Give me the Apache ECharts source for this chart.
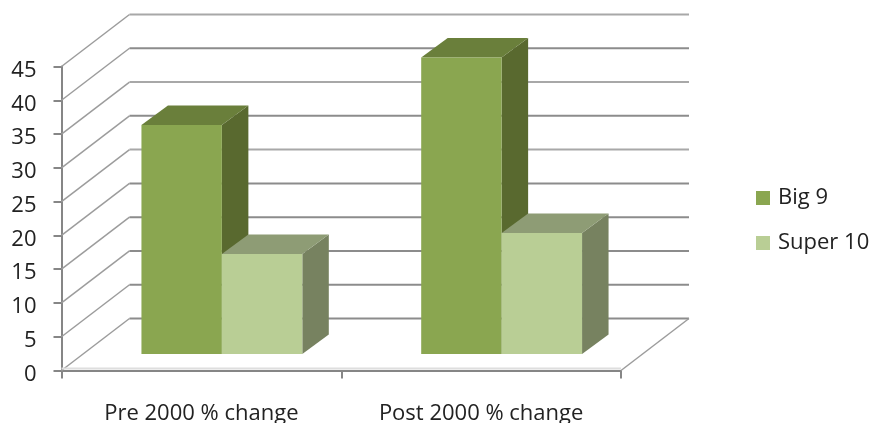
<!DOCTYPE html>
<html>
<head>
<meta charset="utf-8">
<style>html,body{margin:0;padding:0;background:#fff}#chart{width:871px;height:423px}</style>
<script src="https://cdn.jsdelivr.net/npm/echarts@6/dist/echarts.min.js"></script>
</head>
<body>
<div id="chart"></div>
<script>
// Percentage change by period for the two groups
const categories = ['Pre 2000 % change', 'Post 2000 % change'];
const big9 = [33.9, 43.9];
const super10 = [14.8, 17.9];
const yTicks = [0, 5, 10, 15, 20, 25, 30, 35, 40, 45];

// Oblique projection of the 3D box
const WALL_DX = 68, WALL_DY = 52;       // floor depth, front edge to back wall
const BAR_SHIFT_X = 20.5, BAR_SHIFT_Y = 16.5; // bars stand slightly behind the front edge
const BAR_DX = 26.5, BAR_DY = 19.5;     // depth of each bar
const BAR_BAND = 0.2875;                // bar width as a share of the category band
const AXIS_COLOR = '#868686';

const palette = {
  big9: { front: '#8aa650', top: '#6a7f3b', side: '#59692f' },
  super10: { front: '#b9ce95', top: '#8e9c75', side: '#778260' }
};

function poly(points, fill) {
  return { type: 'polygon', shape: { points }, style: { fill, stroke: null } };
}

// Draws a bar as three faces; offset is -1 for the left bar of a pair, 0 for the right
function barRenderer(colors, offset) {
  return function (params, api) {
    const top = api.coord([api.value(0), api.value(1)]);
    const bottom = api.coord([api.value(0), 0]);
    const w = api.size([1, 0])[0] * BAR_BAND;
    const x0 = top[0] + BAR_SHIFT_X + offset * w;
    const x1 = x0 + w;
    const yT = top[1] - BAR_SHIFT_Y;
    const yB = bottom[1] - BAR_SHIFT_Y;
    return {
      type: 'group',
      children: [
        poly([[x1, yT], [x1 + BAR_DX, yT - BAR_DY], [x1 + BAR_DX, yB - BAR_DY], [x1, yB]], colors.side),
        poly([[x0, yT], [x0 + BAR_DX, yT - BAR_DY], [x1 + BAR_DX, yT - BAR_DY], [x1, yT]], colors.top),
        poly([[x0, yT], [x1, yT], [x1, yB], [x0, yB]], colors.front)
      ]
    };
  };
}

// Side wall diagonal plus back wall rule for each tick value
function wallRenderer(params, api) {
  const cs = params.coordSys;
  const value = api.value(1);
  const y = api.coord([0, value])[1];
  const heavy = value % 10 === 0 || value === 15 || value === 5;
  const lines = [{
    type: 'polyline',
    shape: { points: [[cs.x, y], [cs.x + WALL_DX, y - WALL_DY]] },
    style: { fill: null, stroke: '#9c9c9c', lineWidth: 1.5 }
  }, {
    type: 'line',
    shape: { x1: cs.x + WALL_DX, y1: y - WALL_DY, x2: cs.x + cs.width + WALL_DX, y2: y - WALL_DY },
    style: { stroke: heavy ? '#8c8c8c' : '#a8a8a8', lineWidth: 2 }
  }];
  if (value === 0) {
    // Floor: right edge and the pale band along the front
    lines.push({
      type: 'line',
      shape: { x1: cs.x + cs.width, y1: y, x2: cs.x + cs.width + WALL_DX, y2: y - WALL_DY },
      style: { stroke: '#9c9c9c', lineWidth: 1.5 }
    });
    lines.push({
      type: 'line',
      shape: { x1: cs.x, y1: y - 2, x2: cs.x + cs.width, y2: y - 2 },
      style: { stroke: '#dedede', lineWidth: 2 }
    });
  }
  return { type: 'group', children: lines };
}

const textStyle = { fontFamily: 'Open Sans', fontSize: 22, color: '#222' };

const chart = echarts.init(document.getElementById('chart'), null, { renderer: 'canvas' });
chart.setOption({
  animation: false,
  backgroundColor: '#fff',
  grid: { left: 61.5, right: 250, top: 66.5, bottom: 52.5, outerBoundsMode: 'none' },
  legend: {
    data: ['Big 9', 'Super 10'],
    orient: 'vertical',
    left: 751,
    top: 182,
    itemWidth: 14,
    itemHeight: 14,
    itemGap: 23,
    icon: 'rect',
    textStyle: Object.assign({ padding: [0, 0, 0, 3] }, textStyle)
  },
  xAxis: {
    type: 'category',
    data: categories,
    boundaryGap: true,
    axisLine: { lineStyle: { color: AXIS_COLOR, width: 2 } },
    axisTick: { show: true, length: 8, lineStyle: { color: AXIS_COLOR, width: 2 } },
    axisLabel: Object.assign({ margin: 32, interval: 0 }, textStyle),
    splitLine: { show: false }
  },
  yAxis: {
    type: 'value',
    min: 0,
    max: 45,
    interval: 5,
    axisLine: { show: true, lineStyle: { color: AXIS_COLOR, width: 2 } },
    axisTick: { show: true, length: 8, lineStyle: { color: AXIS_COLOR, width: 2 } },
    axisLabel: Object.assign({ margin: 25, verticalAlign: 'top', lineHeight: 8 }, textStyle),
    splitLine: { show: false }
  },
  series: [
    {
      type: 'custom',
      name: 'walls',
      renderItem: wallRenderer,
      data: yTicks.map(t => [0, t]),
      encode: { x: 0, y: 1 },
      silent: true,
      z: 1
    },
    {
      type: 'custom',
      name: 'Big 9',
      renderItem: barRenderer(palette.big9, -1),
      data: big9.map((v, i) => [i, v]),
      encode: { x: 0, y: 1 },
      itemStyle: { color: palette.big9.front },
      z: 2
    },
    {
      type: 'custom',
      name: 'Super 10',
      renderItem: barRenderer(palette.super10, 0),
      data: super10.map((v, i) => [i, v]),
      encode: { x: 0, y: 1 },
      itemStyle: { color: palette.super10.front },
      z: 3
    }
  ]
});
</script>
</body>
</html>
